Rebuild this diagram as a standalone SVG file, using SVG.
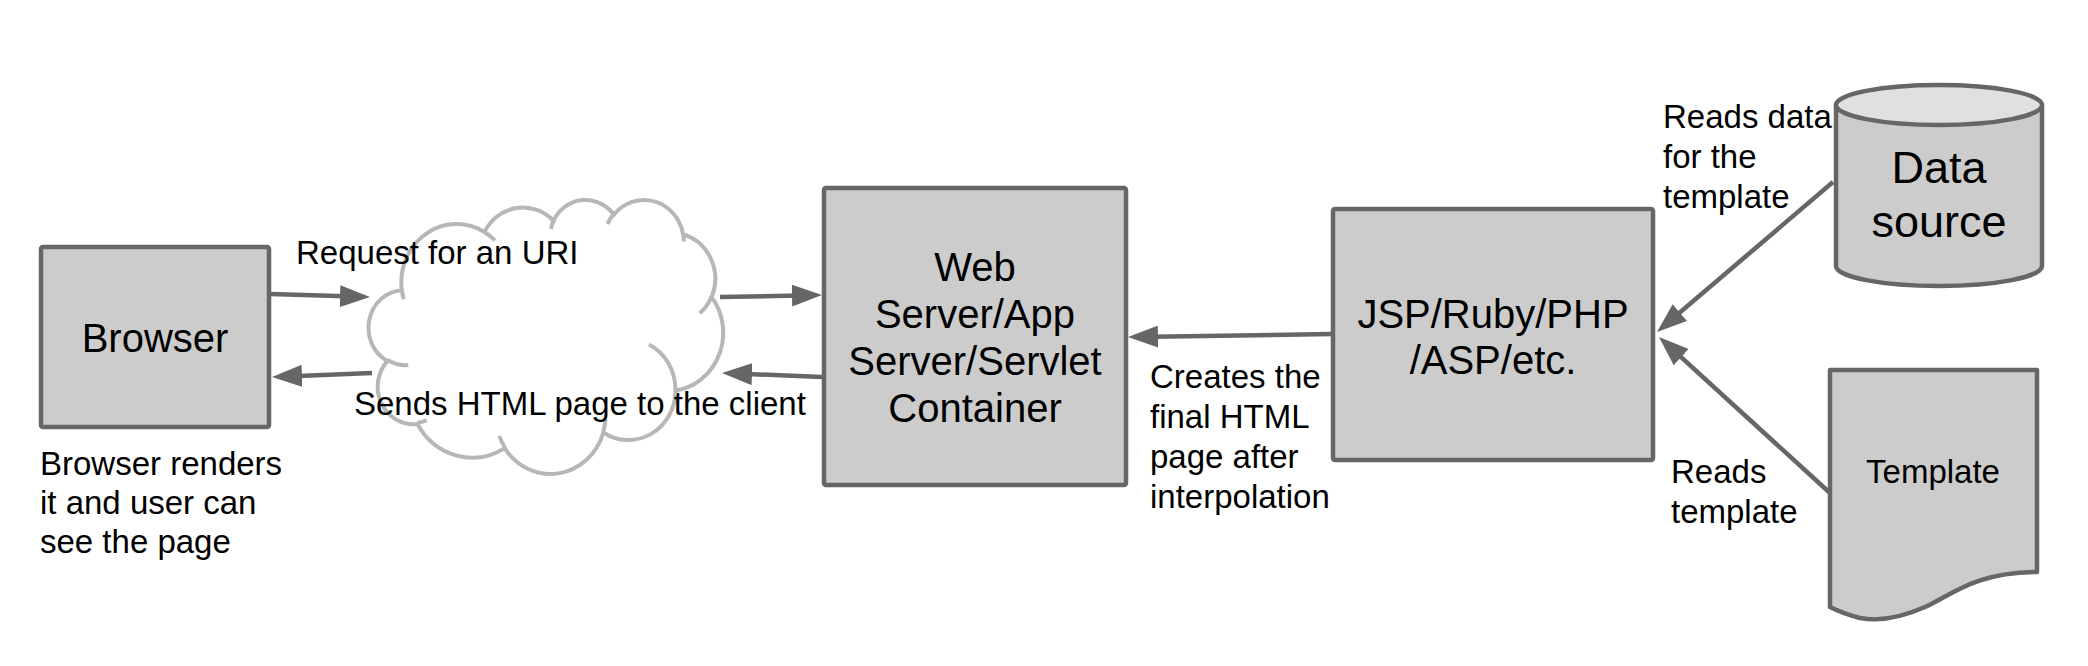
<svg xmlns="http://www.w3.org/2000/svg" width="2088" height="666" viewBox="0 0 2088 666">
<style>
.box{fill:#cccccc;stroke:#666666;stroke-width:4.5;stroke-linejoin:round}
.node{font-family:"Liberation Sans",Arial,sans-serif;font-size:40px;fill:#000;text-anchor:middle}
.lbl{font-family:"Liberation Sans",Arial,sans-serif;font-size:33px;fill:#000}
.conn{stroke:#666666;stroke-width:4.5;fill:none;marker-end:url(#ah)}
.cloud{fill:#ffffff;stroke:#b7b7b7;stroke-width:4;vector-effect:non-scaling-stroke}
.cloudin{fill:none;stroke:#b7b7b7;stroke-width:4;vector-effect:non-scaling-stroke}
</style>
<defs>
<marker id="ah" markerUnits="userSpaceOnUse" viewBox="0 0 30 22" markerWidth="30" markerHeight="22" refX="22" refY="11" orient="auto">
<path d="M0,0 L30,11 L0,22 Z" fill="#666666"/>
</marker>
</defs>
<rect width="2088" height="666" fill="#ffffff"/>

<g id="cloud" transform="translate(370,199) scale(0.0081713,0.0063426)">
<path class="cloud" d="M3900,14370 A6753,9190 0 0 1 14006,5203 A5333,7267 0 0 1 22457,3432 A4365,5945 0 0 1 29834,2481 A4857,6595 0 0 1 38319,5576 A5333,7273 0 0 1 41819,15460 A6775,9220 0 0 1 37405,30203 A5785,7867 0 0 1 28557,36813 A6752,9215 0 0 1 16484,39269 A7720,10543 0 0 1 5808,35475 A4360,5918 0 0 1 2117,25553 A4345,5945 0 0 1 3900,14370 Z"/>
<path class="cloudin" d="M4693,26177 A4345,5945 0 0 1 2160,25380 M6928,34899 A4360,5918 0 0 1 5820,35280 M16478,39090 A6752,9215 0 0 1 15808,37345 M28827,34751 A6752,9215 0 0 1 28560,36660 M34129,22954 A5785,7867 0 0 1 37380,30090 M41798,15354 A5333,7273 0 0 1 40350,18030 M38324,5426 A4857,6595 0 0 1 38400,6690 M29078,3952 A4857,6595 0 0 1 29820,2340 M22141,4720 A4365,5945 0 0 1 22500,3330 M14000,5192 A6753,9190 0 0 1 15299,6540 M4127,15789 A6753,9190 0 0 1 3900,14370"/>
</g>

<g id="browser">
<rect class="box" x="41" y="247" width="228" height="180" rx="2"/>
<text class="node" x="155" y="352">Browser</text>
</g>

<g id="webserver">
<rect class="box" x="824" y="188" width="302" height="297" rx="2"/>
<text class="node" x="975" y="281">Web</text>
<text class="node" x="975" y="328">Server/App</text>
<text class="node" x="975" y="375">Server/Servlet</text>
<text class="node" x="975" y="422">Container</text>
</g>

<g id="jsp">
<rect class="box" x="1333" y="209" width="320" height="251" rx="2"/>
<text class="node" x="1493" y="328">JSP/Ruby/PHP</text>
<text class="node" x="1493" y="374">/ASP/etc.</text>
</g>

<g id="datasource">
<path class="box" d="M1836,105 V266 A103,20 0 0 0 2042,266 V105 Z"/>
<ellipse cx="1939" cy="105" rx="103" ry="20" fill="#e0e0e0" stroke="#666666" stroke-width="4.5"/>
<text class="node" style="font-size:45px" x="1939" y="183">Data</text>
<text class="node" style="font-size:45px" x="1939" y="237">source</text>
</g>

<g id="template">
<path class="box" d="M1830,370 H2037 V572 C1975,572 1950,596 1925,607 C1900,618 1880,622 1860,618 C1848,615 1838,611 1830,607 Z"/>
<text class="node" style="font-size:33px" x="1933" y="483">Template</text>
</g>

<g id="connectors">
<line class="conn" x1="270" y1="294" x2="362" y2="296.8"/>
<line class="conn" x1="720" y1="297" x2="814" y2="295.2"/>
<line class="conn" x1="822" y1="377" x2="730" y2="373.3"/>
<line class="conn" x1="372" y1="373" x2="280" y2="376.7"/>
<line class="conn" x1="1332" y1="334" x2="1136" y2="336.9"/>
<line class="conn" x1="1833" y1="182" x2="1663.1" y2="326.8"/>
<line class="conn" x1="1830" y1="493" x2="1664.9" y2="342.4"/>
</g>

<g id="labels">
<text class="lbl" x="296" y="264">Request for an URI</text>
<text class="lbl" x="354" y="415">Sends HTML page to the client</text>
<text class="lbl" x="40" y="475">Browser renders</text>
<text class="lbl" x="40" y="514">it and user can</text>
<text class="lbl" x="40" y="553">see the page</text>
<text class="lbl" x="1150" y="388">Creates the</text>
<text class="lbl" x="1150" y="428">final HTML</text>
<text class="lbl" x="1150" y="468">page after</text>
<text class="lbl" x="1150" y="508">interpolation</text>
<text class="lbl" x="1663" y="128">Reads data</text>
<text class="lbl" x="1663" y="168">for the</text>
<text class="lbl" x="1663" y="208">template</text>
<text class="lbl" x="1671" y="483">Reads</text>
<text class="lbl" x="1671" y="523">template</text>
</g>
</svg>
